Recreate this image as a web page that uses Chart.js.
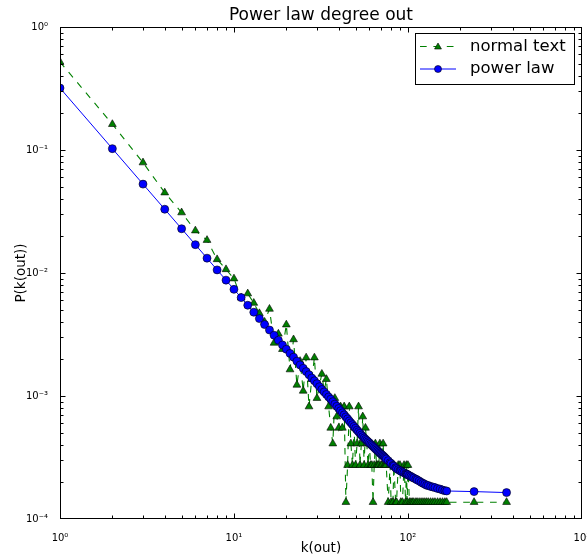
<!DOCTYPE html>
<html>
<head>
<meta charset="utf-8">
<script src="https://cdn.jsdelivr.net/npm/chart.js@4.4.1/dist/chart.umd.min.js"></script>
<style>
  html, body { margin: 0; padding: 0; background: #fff; }
  #wrap { width: 587px; height: 560px; }
</style>
</head>
<body>
<div id="wrap"><canvas id="chart" width="587" height="560"></canvas></div>
<script>
const FONT = '"DejaVu Sans", "Liberation Sans", sans-serif';

// degree values present in the data
const kOut = [1, 2, 3, 4, 5, 6, 7, 8, 9, 10,
  11, 12, 13, 14, 15, 16, 17, 18, 19, 20,
  21, 22, 23, 24, 25, 26, 27, 28, 29, 30,
  31, 32, 33, 34, 35, 36, 37, 38, 39, 40,
  41, 42, 43, 44, 45, 46, 47, 48, 49, 50,
  51, 52, 53, 54, 55, 56, 57, 58, 59, 60,
  61, 62, 63, 64, 65, 66, 67, 68, 69, 70,
  71, 72, 73, 74, 75, 77, 79, 80, 82, 83,
  85, 86, 88, 90, 91, 93, 95, 97, 98, 99,
  100, 102, 104, 106, 108, 111, 113, 116, 119, 122,
  125, 128, 131, 135, 139, 143, 148, 153, 158, 163,
  167, 240, 369];

const normalText = [0.52, 0.162, 0.079, 0.045, 0.031, 0.0221, 0.0185, 0.0129, 0.0107, 0.0090,
  0.0063, 0.0068, 0.0057, 0.0047, 0.0040, 0.0051, 0.0027, 0.0032, 0.0024, 0.0038,
  0.00164, 0.00288, 0.00123, 0.00192, 0.00110, 0.00205, 0.00082, 0.00137, 0.00205, 0.00096,
  0.00123, 0.00151, 0.00110, 0.00137, 0.00082, 0.00055, 0.00041, 0.00096, 0.00068, 0.00055,
  0.00082, 0.00055, 0.00082, 0.000137, 0.000274, 0.00082, 0.00041, 0.000274, 0.00055, 0.000274,
  0.00041, 0.00082, 0.000274, 0.00041, 0.00068, 0.000274, 0.00055, 0.00041, 0.000274, 0.00041,
  0.000274, 0.000274, 0.000137, 0.000274, 0.00041, 0.000274, 0.000274, 0.000274, 0.00041, 0.000274,
  0.000274, 0.00041, 0.000274, 0.000274, 0.000274, 0.000137, 0.000274, 0.000137, 0.000137, 0.000274,
  0.000137, 0.000137, 0.000274, 0.000274, 0.000137, 0.000137, 0.000274, 0.000137, 0.000274, 0.000137,
  0.000274, 0.000137, 0.000137, 0.000137, 0.000137, 0.000137, 0.000137, 0.000137, 0.000137, 0.000137,
  0.000137, 0.000137, 0.000137, 0.000137, 0.000137, 0.000137, 0.000137, 0.000137, 0.000137, 0.000137,
  0.000137, 0.000137, 0.000137];

const powerLaw = [0.319, 0.1026, 0.0528, 0.0330, 0.0229, 0.0170, 0.0132, 0.0106, 0.00875, 0.00736,
  0.00631, 0.00547, 0.00480, 0.00426, 0.00381, 0.00344, 0.00312, 0.00284, 0.00260, 0.00240,
  0.00222, 0.00207, 0.00192, 0.00179, 0.00168, 0.00158, 0.00149, 0.00140, 0.00133, 0.00126,
  0.00119, 0.00113, 0.00108, 0.00103, 0.000982, 0.000942, 0.000899, 0.000859, 0.000824, 0.000791,
  0.000759, 0.000730, 0.000703, 0.000676, 0.000652, 0.000627, 0.000605, 0.000585, 0.000566, 0.000547,
  0.000528, 0.000513, 0.000498, 0.000482, 0.000468, 0.000456, 0.000445, 0.000435, 0.000425, 0.000416,
  0.000406, 0.000398, 0.000389, 0.000381, 0.000373, 0.000365, 0.000358, 0.000351, 0.000344, 0.000338,
  0.000332, 0.000326, 0.000320, 0.000314, 0.000308, 0.000298, 0.000287, 0.000282, 0.000273, 0.000269,
  0.000261, 0.000257, 0.000252, 0.000248, 0.000245, 0.000241, 0.000238, 0.000234, 0.000232, 0.000230,
  0.000229, 0.000225, 0.000222, 0.000218, 0.000215, 0.000211, 0.000208, 0.000204, 0.000199, 0.000195,
  0.000192, 0.000188, 0.000187, 0.000184, 0.000182, 0.000180, 0.000177, 0.000175, 0.000172, 0.000170,
  0.000169, 0.000167, 0.000164];

const xTicks = [1, 10, 100, 1000];
const yTicks = [0.0001, 0.001, 0.01, 0.1, 1];
const seriesNames = ['normal text', 'power law'];

const GREEN = '#008000';
const BLUE = '#0000ff';
const DASH = [6.7, 6.7];

const SUP = { '0': '\u2070', '1': '\u00b9', '2': '\u00b2', '3': '\u00b3', '4': '\u2074', '-': '\u207b' };
function powLabel(v) {
  const e = String(Math.round(Math.log10(v)));
  return '10' + e.split('').map(c => SUP[c]).join('');
}

function points(ys) {
  return kOut.map((k, i) => ({ x: k, y: ys[i] }));
}

function drawTriangle(ctx, x, y, r) {
  ctx.beginPath();
  ctx.moveTo(x, y - r);
  ctx.lineTo(x + r * 0.866, y + r * 0.5);
  ctx.lineTo(x - r * 0.866, y + r * 0.5);
  ctx.closePath();
}

// frame + inward major/minor ticks on all four sides
const frameTicks = {
  id: 'frameTicks',
  afterDatasetsDraw(chart) {
    const { ctx, chartArea: a, scales: { x, y } } = chart;
    const L = Math.round(a.left) + 0.5, R = Math.round(a.right) - 0.5;
    const T = Math.round(a.top) + 0.5, B = Math.round(a.bottom) - 0.5;
    ctx.save();
    ctx.strokeStyle = '#000';
    ctx.lineWidth = 1;
    ctx.strokeRect(L, T, R - L, B - T);
    ctx.beginPath();
    for (let e = 0; e < 3; e++) {
      for (let m = 1; m <= 9; m++) {
        const px = Math.round(x.getPixelForValue(m * Math.pow(10, e))) + 0.5;
        const len = m === 1 ? 5 : 3;
        if (px <= L || px >= R) continue;
        ctx.moveTo(px, B); ctx.lineTo(px, B - len);
        ctx.moveTo(px, T); ctx.lineTo(px, T + len);
      }
    }
    for (let e = -4; e < 0; e++) {
      for (let m = 1; m <= 9; m++) {
        const py = Math.round(y.getPixelForValue(m * Math.pow(10, e))) + 0.5;
        const len = m === 1 ? 5 : 3;
        if (py <= T || py >= B) continue;
        ctx.moveTo(L, py); ctx.lineTo(L + len, py);
        ctx.moveTo(R, py); ctx.lineTo(R - len, py);
      }
    }
    ctx.stroke();
    ctx.restore();
  },
  afterDraw(chart) {
    // legend box in the upper right, matplotlib style
    const ctx = chart.ctx;
    const bx = 415.5, by = 33.5, bw = 159, bh = 51;
    ctx.save();
    ctx.fillStyle = '#fff';
    ctx.fillRect(bx, by, bw, bh);
    ctx.strokeStyle = '#000';
    ctx.lineWidth = 1;
    ctx.strokeRect(bx, by, bw, bh);

    const rows = [46.5, 69];
    // normal text
    ctx.strokeStyle = GREEN;
    ctx.setLineDash(DASH);
    ctx.beginPath();
    ctx.moveTo(420, rows[0]); ctx.lineTo(456, rows[0]);
    ctx.stroke();
    ctx.setLineDash([]);
    drawTriangle(ctx, 438, rows[0] + 0.5, 4);
    ctx.fillStyle = GREEN; ctx.fill();
    ctx.lineWidth = 0.6; ctx.strokeStyle = '#000'; ctx.stroke();
    // power law
    ctx.lineWidth = 1;
    ctx.strokeStyle = BLUE;
    ctx.beginPath();
    ctx.moveTo(420, rows[1]); ctx.lineTo(456, rows[1]);
    ctx.stroke();
    ctx.beginPath();
    ctx.arc(438, rows[1], 3.5, 0, Math.PI * 2);
    ctx.fillStyle = BLUE; ctx.fill();
    ctx.lineWidth = 0.6; ctx.strokeStyle = '#000'; ctx.stroke();

    ctx.fillStyle = '#000';
    ctx.font = '16.5px ' + FONT;
    ctx.textBaseline = 'middle';
    ctx.textAlign = 'left';
    ctx.fillText(seriesNames[0], 470, rows[0]);
    ctx.fillText(seriesNames[1], 470, rows[1]);
    ctx.restore();
  }
};

new Chart(document.getElementById('chart'), {
  type: 'scatter',
  data: {
    datasets: [{
      label: seriesNames[0],
      data: points(normalText),
      showLine: true,
      borderColor: GREEN,
      borderWidth: 1.1,
      borderDash: DASH,
      pointStyle: 'triangle',
      pointRadius: 4.5,
      pointBackgroundColor: GREEN,
      pointBorderColor: '#000',
      pointBorderWidth: 0.6,
      order: 2
    }, {
      label: seriesNames[1],
      data: points(powerLaw),
      showLine: true,
      borderColor: BLUE,
      borderWidth: 1,
      pointStyle: 'circle',
      pointRadius: 4,
      pointBackgroundColor: BLUE,
      pointBorderColor: '#000',
      pointBorderWidth: 0.6,
      order: 1
    }]
  },
  options: {
    responsive: false,
    animation: false,
    layout: { padding: { left: 0, right: 5, top: 0, bottom: 0 } },
    plugins: {
      legend: { display: false },
      tooltip: { enabled: false },
      title: {
        display: true,
        fullSize: false,
        text: 'Power law degree out',
        color: '#000',
        font: { family: FONT, size: 17, weight: 'normal' },
        padding: { top: 5, bottom: 1.6 }
      }
    },
    scales: {
      x: {
        type: 'logarithmic',
        position: 'bottom',
        min: 1,
        max: 1000,
        grid: { display: false },
        border: { display: false },
        afterBuildTicks: s => { s.ticks = xTicks.map(v => ({ value: v })); },
        afterFit: s => { s.height = 41; s.paddingLeft = 0; s.paddingRight = 0; },
        ticks: {
          autoSkip: false,
          maxRotation: 0,
          padding: 5,
          color: '#000',
          font: { family: FONT, size: 10 },
          callback: v => powLabel(v)
        },
        title: {
          display: true,
          text: 'k(out)',
          color: '#000',
          font: { family: FONT, size: 13.5 },
          padding: { top: 0, bottom: 3 }
        }
      },
      y: {
        type: 'logarithmic',
        position: 'left',
        min: 0.0001,
        max: 1,
        grid: { display: false },
        border: { display: false },
        afterBuildTicks: s => { s.ticks = yTicks.map(v => ({ value: v })); },
        afterFit: s => { s.width = 60; s.paddingTop = 0; s.paddingBottom = 0; },
        ticks: {
          autoSkip: false,
          padding: 4,
          color: '#000',
          font: { family: FONT, size: 10 },
          callback: v => powLabel(v)
        },
        title: {
          display: true,
          text: 'P(k(out))',
          color: '#000',
          font: { family: FONT, size: 13.5 },
          padding: { top: 13, bottom: 0 }
        }
      }
    }
  },
  plugins: [frameTicks]
});
</script>
</body>
</html>
